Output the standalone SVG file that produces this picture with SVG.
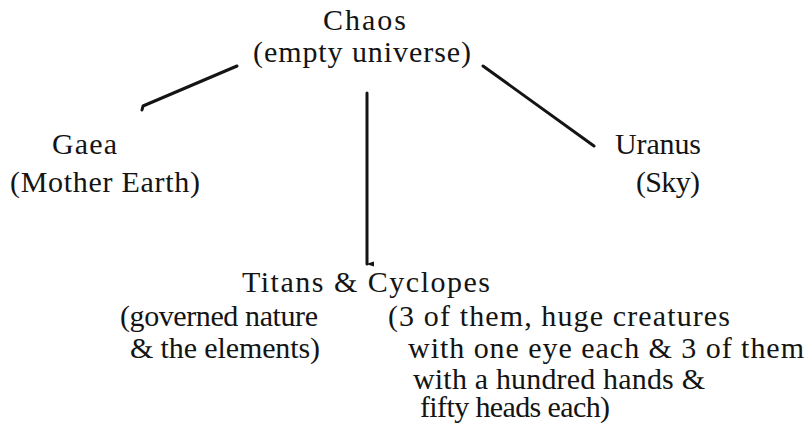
<svg xmlns="http://www.w3.org/2000/svg" width="806" height="423" viewBox="0 0 806 423">
<defs>
<style>
.conn{stroke:#141414;stroke-width:3;fill:none;stroke-linecap:round;stroke-linejoin:round}
.lab{font-family:Liberation Serif, serif;font-size:30px;fill:#141414}
</style>
<marker id="arr" viewBox="0 0 6 8" refX="3" refY="7" markerWidth="6" markerHeight="8" markerUnits="userSpaceOnUse" orient="auto-start-reverse">
<path d="M0.5,0 L3,8 L5.5,0 Z" fill="#141414"/>
</marker>
</defs>
<rect width="806" height="423" fill="#ffffff"/>
<g id="connectors">
<polyline class="conn" points="142,110 143,106 237,66"/>
<line class="conn" x1="483" y1="66" x2="594" y2="146"/>
<line class="conn" x1="367" y1="93" x2="367" y2="264" marker-end="url(#arr)"/>
</g>
<g id="chaos">
<text class="lab" x="323" y="30" textLength="83" lengthAdjust="spacing">Chaos</text>
<text class="lab" x="253" y="62" textLength="218" lengthAdjust="spacing">(empty universe)</text>
</g>
<g id="gaea">
<text class="lab" x="52" y="154" textLength="65" lengthAdjust="spacing">Gaea</text>
<text class="lab" x="10" y="192" textLength="190" lengthAdjust="spacing">(Mother Earth)</text>
</g>
<g id="uranus">
<text class="lab" x="615" y="154" textLength="86" lengthAdjust="spacing">Uranus</text>
<text class="lab" x="636" y="192" textLength="64" lengthAdjust="spacing">(Sky)</text>
</g>
<g id="titans">
<text class="lab" x="242" y="292" textLength="248" lengthAdjust="spacing">Titans &amp; Cyclopes</text>
<text class="lab" x="120" y="326" textLength="198" lengthAdjust="spacing">(governed nature</text>
<text class="lab" x="130" y="358" textLength="190" lengthAdjust="spacing">&amp; the elements)</text>
<text class="lab" x="388" y="326" textLength="342" lengthAdjust="spacing">(3 of them, huge creatures</text>
<text class="lab" x="408" y="358" textLength="396" lengthAdjust="spacing">with one eye each &amp; 3 of them</text>
<text class="lab" x="413" y="389" textLength="292" lengthAdjust="spacing">with a hundred hands &amp;</text>
<text class="lab" x="420" y="417" textLength="190" lengthAdjust="spacing">fifty heads each)</text>
</g>
</svg>
